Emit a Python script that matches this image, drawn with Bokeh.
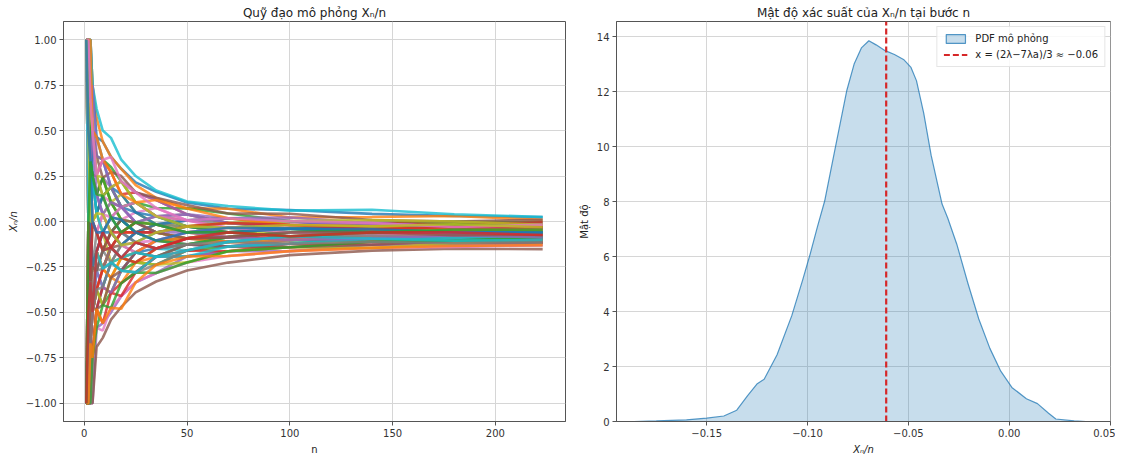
from bokeh.plotting import figure
from bokeh.layouts import row
from bokeh.models import FixedTicker, Range1d, Legend, LegendItem
from bokeh.embed import file_html
from bokeh.resources import INLINE

# ---------------- data: simulated trajectories X_n / n ----------------
n_steps = [1, 2, 3, 4, 6, 9, 13, 18, 25, 35, 50, 70, 100, 140, 180, 223]

path_01 = [1, 1, 0.67, 0.5, 0.465, 0.44, 0.355, 0.29, 0.215, 0.163, 0.105, 0.07, 0.063, 0.042, 0.03, 0.024]
path_02 = [1, 1, 1, 0.75, 0.57, 0.44, 0.355, 0.29, 0.2, 0.13, 0.072, 0.07, 0.022, 0.025, 0.03, 0.01]
path_03 = [1, 0.5, 0.67, 0.5, 0.36, 0.34, 0.3, 0.22, 0.105, 0.074, 0.072, 0.044, 0.002, -0.009, 0.0, -0.004]
path_04 = [1, 0.5, 0.33, 0.25, 0.255, 0.34, 0.272, 0.15, 0.16, 0.118, 0.039, -0.008, -0.019, -0.009, -0.015, -0.004]
path_05 = [1, 0, 0.33, 0.25, 0.15, 0.24, 0.189, 0.22, 0.16, 0.118, 0.039, 0.018, 0.022, -0.009, -0.03, -0.018]
path_06 = [1, 1, 0.67, 0.5, 0.36, 0.24, 0.106, 0.08, 0.105, 0.029, 0.006, 0.018, -0.019, -0.026, -0.015, -0.018]
path_07 = [-1, 0, 0.33, 0, 0.045, 0.14, 0.106, 0.01, 0.05, 0.074, 0.006, -0.034, -0.019, -0.026, -0.03, -0.032]
path_08 = [1, 0.5, 0.33, 0.5, 0.255, 0.14, 0.023, 0.01, -0.06, -0.016, 0.006, -0.008, 0.002, -0.026, -0.045, -0.032]
path_09 = [-1, -0.5, 0, 0, -0.06, 0.04, 0.106, 0.15, 0.05, -0.016, -0.027, -0.008, -0.04, -0.043, -0.03, -0.046]
path_10 = [1, 0.5, 0.33, 0.25, 0.15, 0.04, -0.06, 0.01, -0.005, -0.06, -0.027, -0.034, -0.06, -0.043, -0.045, -0.046]
path_11 = [-1, -0.5, -0.33, -0.25, -0.165, -0.06, 0.023, -0.06, -0.115, -0.06, -0.027, -0.06, -0.04, -0.06, -0.06, -0.046]
path_12 = [1, 0, 0, 0, 0.045, -0.06, -0.143, -0.06, -0.005, -0.016, -0.06, -0.086, -0.06, -0.06, -0.075, -0.06]
path_13 = [1, 0, -0.33, 0, -0.06, -0.16, -0.06, 0.01, -0.06, -0.105, -0.093, -0.06, -0.04, -0.06, -0.06, -0.06]
path_14 = [-1, -1, -0.33, -0.25, -0.27, -0.16, -0.06, -0.06, -0.005, -0.06, -0.093, -0.086, -0.06, -0.077, -0.06, -0.06]
path_15 = [1, 1, 0.67, 0.25, 0.15, 0.04, -0.06, -0.13, -0.115, -0.149, -0.093, -0.06, -0.081, -0.077, -0.075, -0.074]
path_16 = [-1, -0.5, -0.67, -0.25, -0.165, -0.26, -0.143, -0.13, -0.06, -0.06, -0.093, -0.112, -0.081, -0.077, -0.06, -0.074]
path_17 = [1, 0.5, 0, 0, -0.06, -0.06, -0.143, -0.2, -0.115, -0.105, -0.06, -0.06, -0.081, -0.094, -0.075, -0.074]
path_18 = [-1, -1, -0.67, -0.5, -0.375, -0.26, -0.226, -0.13, -0.17, -0.105, -0.093, -0.086, -0.101, -0.077, -0.09, -0.074]
path_19 = [1, 0.5, 0.33, 0, 0.045, -0.06, -0.226, -0.2, -0.225, -0.149, -0.126, -0.086, -0.101, -0.094, -0.09, -0.088]
path_20 = [-1, -0.5, -0.33, -0.5, -0.27, -0.36, -0.226, -0.2, -0.115, -0.149, -0.159, -0.112, -0.101, -0.111, -0.09, -0.088]
path_21 = [-1, -1, -1, -0.75, -0.48, -0.36, -0.226, -0.27, -0.17, -0.149, -0.126, -0.138, -0.122, -0.094, -0.09, -0.088]
path_22 = [1, 0, -0.33, -0.25, -0.165, -0.26, -0.309, -0.34, -0.225, -0.194, -0.126, -0.112, -0.122, -0.111, -0.105, -0.102]
path_23 = [-1, -1, -0.67, -0.5, -0.375, -0.46, -0.392, -0.27, -0.225, -0.238, -0.159, -0.138, -0.101, -0.111, -0.105, -0.102]
path_24 = [-1, -1, -1, -0.75, -0.48, -0.56, -0.392, -0.34, -0.28, -0.194, -0.192, -0.164, -0.122, -0.128, -0.12, -0.116]
path_25 = [-1, -1, -1, -1, -0.585, -0.56, -0.5, -0.41, -0.335, -0.283, -0.192, -0.164, -0.163, -0.128, -0.135, -0.13]
path_26 = [-1, -1, -1, -1, -0.69, -0.64, -0.54, -0.47, -0.39, -0.33, -0.27, -0.226, -0.185, -0.16, -0.15, -0.152]
path_27 = [-1, -1, -1, -0.75, -0.585, -0.6, -0.475, -0.41, -0.335, -0.283, -0.225, -0.19, -0.163, -0.145, -0.14, -0.13]
path_28 = [-1, 0, 0, -0.25, -0.06, -0.16, -0.226, -0.13, -0.06, -0.016, -0.027, -0.06, -0.081, -0.06, -0.045, -0.046]
path_29 = [1, 1, 0.33, 0.5, 0.255, 0.24, 0.106, 0.01, -0.005, -0.06, -0.093, -0.06, -0.06, -0.043, -0.06, -0.06]
path_30 = [-1, -0.5, -0.33, -0.25, -0.27, -0.16, -0.143, -0.2, -0.17, -0.194, -0.126, -0.086, -0.06, -0.06, -0.075, -0.06]
path_31 = [1, 1, 1, 0.75, 0.465, 0.34, 0.189, 0.08, 0.05, -0.016, 0.006, 0.018, 0.002, -0.026, -0.03, -0.046]
path_32 = [-1, -1, -0.67, -0.5, -0.375, -0.26, -0.143, -0.06, -0.06, -0.016, -0.06, -0.034, -0.04, -0.026, -0.045, -0.032]
path_33 = [-1, 0, 0.33, 0.25, 0.045, 0.14, 0.189, 0.08, 0.105, 0.029, -0.027, -0.06, -0.04, -0.026, -0.015, -0.032]
path_34 = [-1, -1, -0.67, -0.75, -0.48, -0.36, -0.392, -0.41, -0.28, -0.194, -0.159, -0.164, -0.142, -0.111, -0.12, -0.116]
path_35 = [-1, -0.5, -0.67, -0.5, -0.27, -0.36, -0.392, -0.27, -0.17, -0.105, -0.126, -0.138, -0.101, -0.077, -0.075, -0.088]
path_36 = [1, 0.5, 0.33, 0.25, 0.15, 0.24, 0.272, 0.25, 0.16, 0.13, 0.09, 0.044, 0.043, 0.008, 0.0, 0.01]
path_37 = [-1, 0, 0.33, 0, -0.06, 0.04, -0.06, -0.13, -0.17, -0.105, -0.06, -0.034, -0.019, -0.043, -0.06, -0.074]
path_38 = [-1, -0.5, 0, -0.25, -0.165, -0.06, 0.023, 0.08, -0.005, 0.029, 0.039, -0.008, -0.04, -0.06, -0.045, -0.046]
path_39 = [-1, -1, -0.33, -0.5, -0.375, -0.46, -0.309, -0.2, -0.225, -0.238, -0.225, -0.164, -0.142, -0.145, -0.12, -0.102]
path_40 = [1, 1, 1, 0.75, 0.62, 0.5, 0.46, 0.34, 0.25, 0.17, 0.11, 0.085, 0.06, 0.065, 0.04, 0.025]
path_41 = [1, 0.5, 0.67, 0.25, 0.045, 0.14, 0.189, 0.15, 0.05, 0.029, -0.027, -0.034, -0.04, -0.06, -0.06, -0.046]
path_42 = [-1, -1, -0.33, -0.25, -0.165, -0.26, -0.309, -0.2, -0.17, -0.105, -0.093, -0.112, -0.101, -0.077, -0.075, -0.074]
path_43 = [1, 1, 0.33, 0.25, 0.15, 0.24, 0.106, 0.01, -0.06, -0.105, -0.126, -0.086, -0.06, -0.043, -0.045, -0.06]
path_44 = [-1, -0.5, -0.67, -0.5, -0.375, -0.26, -0.143, -0.2, -0.225, -0.149, -0.093, -0.086, -0.081, -0.094, -0.09, -0.102]
path_45 = [1, 1, 0.67, 0.75, 0.36, 0.34, 0.189, 0.08, -0.005, 0.029, 0.039, -0.008, -0.019, -0.009, -0.03, -0.032]
path_46 = [-1, -1, -0.67, -0.75, -0.48, -0.46, -0.309, -0.27, -0.17, -0.194, -0.126, -0.138, -0.142, -0.128, -0.105, -0.116]
path_47 = [1, 0, 0, 0, -0.06, 0.04, 0.023, 0.08, 0.105, 0.029, 0.006, -0.034, -0.06, -0.077, -0.06, -0.046]
path_48 = [-1, -0.5, -0.33, -0.25, -0.27, -0.26, -0.143, -0.06, -0.115, -0.149, -0.126, -0.112, -0.081, -0.077, -0.09, -0.074]
path_49 = [1, 0.5, 0.67, 0.5, 0.255, 0.14, 0.189, 0.22, 0.105, 0.029, -0.027, -0.008, 0.002, 0.008, 0.0, -0.018]
path_50 = [1, 0, 0, 0.25, 0.045, -0.06, -0.143, -0.2, -0.17, -0.194, -0.192, -0.138, -0.122, -0.094, -0.09, -0.088]
path_51 = [-1, -0.5, 0, -0.25, -0.165, -0.06, -0.06, -0.13, -0.06, -0.016, -0.06, -0.06, -0.04, -0.026, -0.045, -0.06]
path_52 = [1, 1, 1, 0.5, 0.465, 0.34, 0.272, 0.15, 0.105, 0.118, 0.072, 0.018, -0.019, -0.026, -0.045, -0.046]
path_53 = [-1, -1, -1, -0.75, -0.585, -0.46, -0.475, -0.34, -0.28, -0.283, -0.225, -0.164, -0.142, -0.111, -0.105, -0.088]
path_54 = [-1, 0, -0.33, 0, -0.06, -0.16, -0.143, -0.06, -0.06, -0.06, -0.027, -0.008, -0.019, -0.043, -0.03, -0.032]
path_55 = [1, 0.5, 0.33, 0.5, 0.15, 0.04, 0.106, 0.08, -0.005, -0.06, -0.06, -0.086, -0.101, -0.094, -0.075, -0.088]
path_56 = [-1, -1, -0.33, -0.25, -0.27, -0.16, -0.06, 0.01, -0.005, -0.06, -0.093, -0.086, -0.06, -0.06, -0.075, -0.074]
path_57 = [1, 1, 0.67, 0.5, 0.255, 0.34, 0.355, 0.22, 0.16, 0.074, 0.006, 0.018, 0.002, -0.009, -0.03, -0.018]
path_58 = [-1, -1, -0.67, -0.5, -0.375, -0.36, -0.226, -0.27, -0.28, -0.238, -0.159, -0.112, -0.122, -0.111, -0.12, -0.116]
path_59 = [1, 0.5, 0, 0, 0.045, 0.04, -0.06, -0.13, -0.115, -0.06, -0.027, -0.034, -0.019, -0.026, -0.015, -0.032]
path_60 = [-1, -0.5, -0.33, -0.5, -0.165, -0.26, -0.226, -0.27, -0.28, -0.194, -0.159, -0.112, -0.081, -0.094, -0.105, -0.102]
path_61 = [1, 0.5, 0.33, 0, -0.06, -0.06, 0.023, 0.01, -0.06, -0.105, -0.06, -0.034, -0.04, -0.043, -0.06, -0.06]
path_62 = [-1, -1, -0.67, -0.75, -0.48, -0.56, -0.475, -0.48, -0.335, -0.238, -0.192, -0.19, -0.163, -0.145, -0.135, -0.13]
path_63 = [-1, 0, 0.33, 0.25, 0.15, 0.14, 0.023, -0.06, -0.005, -0.016, -0.06, -0.06, -0.081, -0.06, -0.045, -0.046]
path_64 = [-1, -0.5, -0.33, -0.5, -0.165, -0.06, -0.143, -0.2, -0.115, -0.149, -0.093, -0.06, -0.081, -0.06, -0.06, -0.074]

paths = [path_01, path_02, path_03, path_04, path_05, path_06, path_07, path_08,
         path_09, path_10, path_11, path_12, path_13, path_14, path_15, path_16,
         path_17, path_18, path_19, path_20, path_21, path_22, path_23, path_24,
         path_25, path_26, path_27, path_28, path_29, path_30, path_31, path_32,
         path_33, path_34, path_35, path_36, path_37, path_38, path_39, path_40,
         path_41, path_42, path_43, path_44, path_45, path_46, path_47, path_48,
         path_49, path_50, path_51, path_52, path_53, path_54, path_55, path_56,
         path_57, path_58, path_59, path_60, path_61, path_62, path_63, path_64]

# ---------------- data: density of X_n / n ----------------
kde_x = [-0.186, -0.175, -0.16, -0.15, -0.1415, -0.1351, -0.1296, -0.1251, -0.1215,
         -0.1151, -0.1078, -0.1024, -0.0987, -0.0951, -0.0915, -0.086, -0.0805,
         -0.0769, -0.0733, -0.0696, -0.066, -0.0615, -0.0569, -0.0524, -0.0487,
         -0.046, -0.0424, -0.0387, -0.0333, -0.0305, -0.026, -0.0205, -0.0151,
         -0.0096, -0.0042, 0.0013, 0.0085, 0.014, 0.0195, 0.0231, 0.0322, 0.038]
kde_y = [0.0, 0.02, 0.06, 0.12, 0.2, 0.41, 0.95, 1.36, 1.54,
         2.43, 3.85, 5.15, 6.09, 7.08, 8.02, 10.04, 12.05,
         13.0, 13.59, 13.85, 13.7, 13.49, 13.35, 13.17, 12.88,
         12.4, 11.22, 9.68, 7.91, 7.4, 6.45, 5.03, 3.73,
         2.66, 1.83, 1.24, 0.83, 0.65, 0.3, 0.09, 0.02, 0.0]
theory_x = -0.061

# ---------------- ticks ----------------
left_xticks = [0, 50, 100, 150, 200]
left_yticks = [-1.0, -0.75, -0.5, -0.25, 0.0, 0.25, 0.5, 0.75, 1.0]
left_ytick_labels = ["−1.00", "−0.75", "−0.50", "−0.25", "0.00", "0.25", "0.50", "0.75", "1.00"]
right_xticks = [-0.15, -0.1, -0.05, 0.0, 0.05]
right_xtick_labels = ["−0.15", "−0.10", "−0.05", "0.00", "0.05"]
right_yticks = [0, 2, 4, 6, 8, 10, 12, 14]

tab10 = ["#1f77b4", "#ff7f0e", "#2ca02c", "#d62728", "#9467bd",
         "#8c564b", "#e377c2", "#7f7f7f", "#bcbd22", "#17becf"]

FONT = "DejaVu Sans"


def style(p):
    p.title.text_font = FONT
    p.title.text_font_size = "12px"
    p.title.text_font_style = "normal"
    p.title.text_color = "#222222"
    p.title.align = "center"
    p.title.standoff = 4
    for ax in (p.xaxis, p.yaxis):
        ax.axis_label_text_font = FONT
        ax.axis_label_text_font_size = "10px"
        ax.axis_label_text_font_style = "normal"
        ax.axis_label_text_color = "#222222"
        ax.axis_label_standoff = 4
        ax.major_label_text_font = FONT
        ax.major_label_text_font_size = "10px"
        ax.major_label_text_color = "#333333"
        ax.axis_line_color = "#555555"
        ax.major_tick_line_color = "#555555"
        ax.major_tick_in = 0
        ax.major_tick_out = 4
        ax.minor_tick_line_color = None
        ax.major_label_standoff = 3
    p.outline_line_color = "#555555"
    p.outline_line_alpha = 1.0
    p.grid.grid_line_color = "#d6d6d6"
    p.grid.grid_line_width = 1
    p.background_fill_color = "white"
    p.border_fill_color = "white"


# ---------------- left: trajectories ----------------
p1 = figure(width=572, height=457, output_backend="svg", toolbar_location=None,
            x_range=Range1d(-10.1, 234.1), y_range=Range1d(-1.1, 1.1),
            min_border_left=63, min_border_right=7, min_border_top=21, min_border_bottom=28,
            title="Quỹ đạo mô phỏng Xₙ/n")
colors = [tab10[i % 10] for i in range(len(paths))]
p1.multi_line(xs=[n_steps] * len(paths), ys=paths, line_color=colors,
              line_width=2.6, line_alpha=0.8)
style(p1)
p1.xaxis.ticker = FixedTicker(ticks=left_xticks)
p1.yaxis.ticker = FixedTicker(ticks=left_yticks)
p1.yaxis.major_label_overrides = dict(zip(left_yticks, left_ytick_labels))
p1.xaxis.axis_label = "n"
p1.yaxis.axis_label = "Xₙ/n"
p1.yaxis.axis_label_text_font_style = "italic"

# ---------------- right: density ----------------
right_ymax = 14.55
p2 = figure(width=543, height=457, output_backend="svg", toolbar_location=None,
            x_range=Range1d(-0.1947, 0.0502), y_range=Range1d(0, right_ymax),
            min_border_left=44, min_border_right=5, min_border_top=21, min_border_bottom=28,
            title="Mật độ xác suất của Xₙ/n tại bước n")
pdf_r = p2.patch(kde_x, kde_y, fill_color="#1f77b4", fill_alpha=0.25,
                 line_color="#1f77b4", line_width=1.2, line_alpha=0.75)
mean_r = p2.line([theory_x, theory_x], [0, right_ymax], line_color="#d62728",
                 line_width=2.2, line_dash="6 3")
style(p2)
p2.xaxis.ticker = FixedTicker(ticks=right_xticks)
p2.xaxis.major_label_overrides = dict(zip(right_xticks, right_xtick_labels))
p2.yaxis.ticker = FixedTicker(ticks=right_yticks)
p2.xaxis.axis_label = "Xₙ/n"
p2.xaxis.axis_label_text_font_style = "italic"
p2.yaxis.axis_label = "Mật độ"

legend = Legend(items=[LegendItem(label="PDF mô phỏng", renderers=[pdf_r]),
                       LegendItem(label="x = (2λ−7λa)/3 ≈ −0.06", renderers=[mean_r])],
                location="top_right")
legend.label_text_font = FONT
legend.label_text_font_size = "10px"
legend.label_text_color = "#222222"
legend.glyph_width = 24
legend.glyph_height = 11
legend.label_standoff = 8
legend.padding = 6
legend.spacing = 5
legend.margin = 5
legend.border_line_color = "#cccccc"
legend.background_fill_alpha = 0.85
p2.add_layout(legend)

layout = row(p1, p2)
open("out.html", "w").write(file_html(layout, INLINE))
